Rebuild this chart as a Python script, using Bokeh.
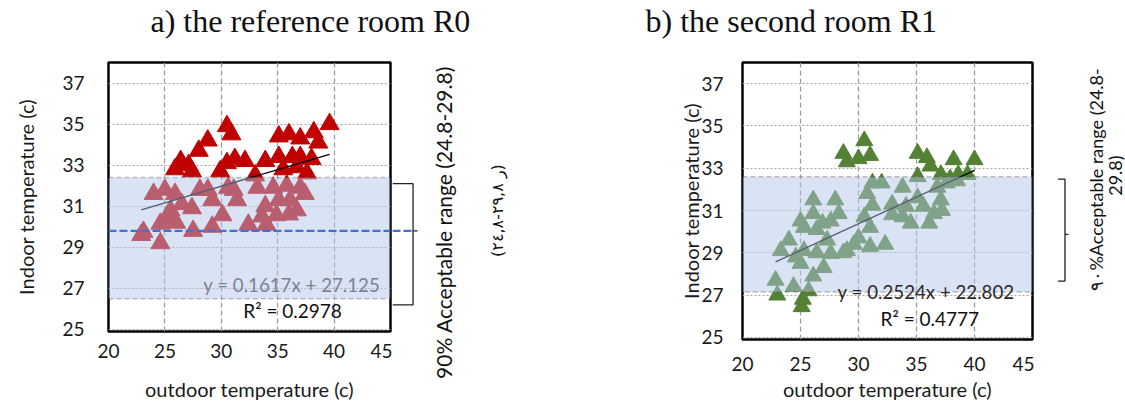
import math
from bokeh.plotting import figure
from bokeh.layouts import row, column
from bokeh.models import BoxAnnotation, Label, FixedTicker, Range1d, Span
from bokeh.core.properties import value
from bokeh.embed import file_html
from bokeh.resources import INLINE

# ---------------- data ----------------
x_ticks = [20, 25, 30, 35, 40, 45]
y_ticks = [25, 27, 29, 31, 33, 35, 37]

r0_outdoor = [30.5, 39.6, 38.2, 36.0, 35.1, 37.0, 38.6, 28.8, 28.0, 26.4, 27.1, 30.9, 30.5, 31.2,
              32.1, 33.9, 35.1, 36.3, 37.0, 38.0, 33.0, 36.7, 37.6, 35.5, 29.9, 25.9, 27.4,
              24.0, 25.0, 25.9, 28.1, 28.8, 26.5, 25.5, 24.6, 23.1, 24.6, 27.5, 29.2, 30.1, 29.2,
              27.4, 25.3, 33.2, 34.6, 35.8, 37.0, 37.4, 35.1, 36.1, 36.7, 36.0, 33.9, 33.6, 34.9,
              34.0, 32.4, 31.1, 31.4, 30.6, 22.9, 26.0]
r0_indoor = [34.9, 35.0, 34.6, 34.5, 34.4, 34.3, 34.1, 34.2, 33.7, 33.2, 33.0, 34.5, 33.1, 33.3,
             33.2, 33.2, 33.4, 33.4, 33.4, 33.3, 32.5, 32.9, 32.6, 32.8, 32.7, 32.8, 32.7,
             31.6, 31.8, 31.6, 31.8, 31.8, 31.1, 30.8, 30.15, 29.75, 29.2, 29.8, 30.0, 30.56, 31.3,
             30.9, 30.4, 31.9, 31.9, 32.0, 31.9, 31.6, 31.3, 31.3, 30.8, 30.6, 31.0, 30.5, 30.56,
             30.1, 30.1, 31.8, 31.3, 31.9, 29.6, 30.2]

r1_outdoor = [30.5, 28.7, 29.0, 30.0, 31.0, 35.1, 35.9, 36.2, 38.2, 40.0, 37.1, 37.9, 38.6, 35.1,
              31.2, 32.0, 30.75, 31.2, 30.5, 31.0, 30.0, 29.0, 31.0, 32.3, 32.9, 33.8, 32.9, 33.8,
              34.5, 35.1, 35.6, 36.1, 36.5, 37.1, 37.2, 36.8, 37.6, 38.5, 39.4, 34.1,
              22.85, 23.0, 23.3, 24.0, 24.4, 25.1, 25.2, 25.7, 26.1, 27.0, 25.0, 25.3, 24.6, 26.4,
              27.6, 25.3, 25.0, 26.1, 26.1, 26.9, 26.4, 27.3, 28.0, 28.3, 27.6, 28.7, 29.6]
r1_indoor = [34.3, 33.7, 33.3, 33.45, 33.6, 33.7, 33.5, 33.1, 33.4, 33.4, 32.7, 32.5, 32.7, 32.6,
             32.3, 32.3, 31.8, 31.25, 30.7, 30.2, 29.7, 29.1, 29.3, 29.4, 31.3, 32.1, 30.8, 30.7,
             30.4, 31.6, 31.2, 30.4, 30.85, 31.5, 31.0, 32.1, 32.3, 32.4, 32.7, 31.2,
             27.7, 27.0, 29.1, 29.6, 27.4, 26.45, 26.8, 27.2, 27.9, 28.3, 28.5, 29.1, 28.8, 29.0,
             28.97, 30.2, 30.5, 31.5, 30.85, 30.4, 30.1, 29.6, 31.5, 30.85, 30.5, 29.0, 29.4]

r0_fit = (0.1617, 27.125, 0.2978)
r1_fit = (0.2524, 22.802, 0.4777)
r0_band = (26.5, 32.4)
r1_band = (27.15, 32.6)
limit_line = 29.8

FONT = "Lato"
SERIF = "Liberation Serif"
H_TITLE = 46
H = 403 - H_TITLE
FRAME_TOP = 62 - H_TITLE
X0, X1 = 20, 45
Y0, Y1 = 24.9, 38


def no_align(p):
    if "frame_align" in p.properties():
        p.frame_align = False
    return p


def title_fig(width, text, offset):
    t = figure(width=width, height=H_TITLE, x_range=Range1d(0, 1), y_range=Range1d(0, 1),
               output_backend="svg", toolbar_location=None,
               min_border_left=0, min_border_right=0, min_border_top=3, min_border_bottom=0)
    t.title.text = text
    t.title.text_font = SERIF
    t.title.text_font_size = "32px"
    t.title.text_font_style = "normal"
    t.title.text_color = "#111111"
    t.title.align = "left"
    t.title.offset = offset
    t.title.standoff = 0
    t.axis.visible = False
    t.grid.visible = False
    t.outline_line_color = None
    return no_align(t)


def base_fig(width, mb_left, mb_bottom):
    p = figure(width=width, height=H, x_range=(X0, X1), y_range=(Y0, Y1),
               output_backend="svg", toolbar_location=None,
               min_border_left=mb_left, min_border_right=2,
               min_border_top=FRAME_TOP, min_border_bottom=mb_bottom)
    p.outline_line_color = "black"
    p.outline_line_width = 2.5
    p.outline_line_alpha = 1
    p.xaxis.ticker = FixedTicker(ticks=x_ticks)
    p.yaxis.ticker = FixedTicker(ticks=y_ticks)
    for ax in (p.xaxis[0], p.yaxis[0]):
        ax.axis_line_color = None
        ax.major_tick_line_color = None
        ax.minor_tick_line_color = None
        ax.major_tick_out = 0
        ax.major_tick_in = 0
        ax.minor_tick_out = 0
        ax.major_label_text_font = FONT
        ax.major_label_text_font_size = "19px"
        ax.major_label_text_color = "#1a1a1a"
        ax.axis_label_text_font = FONT
        ax.axis_label_text_font_size = "20px"
        ax.axis_label_text_font_style = "normal"
        ax.axis_label_text_color = "#1a1a1a"
    p.xaxis.axis_label = "outdoor temperature (c)"
    p.yaxis.axis_label = "Indoor temperature (c)"
    p.xgrid.grid_line_color = "#9a9a9a"
    p.xgrid.grid_line_dash = "5 3"
    p.xgrid.grid_line_width = 1.2
    p.ygrid.grid_line_color = "#a6a6a6"
    p.ygrid.grid_line_dash = "2 2"
    p.ygrid.grid_line_width = 1
    p.background_fill_color = "white"
    p.border_fill_color = "white"
    return no_align(p)


def side_fig(width, px_x, px_y):
    left = X1 + 2 / px_x
    bottom = Y1 - (H - FRAME_TOP) / px_y
    s = figure(width=width, height=H, x_range=Range1d(left, left + width / px_x),
               y_range=Range1d(bottom, Y1), output_backend="svg", toolbar_location=None,
               min_border_left=0, min_border_right=0, min_border_top=FRAME_TOP,
               min_border_bottom=0)
    s.axis.visible = False
    s.grid.visible = False
    s.outline_line_color = None
    s.background_fill_color = "white"
    s.border_fill_color = "white"
    return no_align(s), left


def add_common(p, xs, ys, fit, band, color, size):
    p.scatter(xs, ys, marker="triangle", size=size, fill_color=color, line_color=color)
    slope, icpt, r2 = fit
    x0, x1 = min(xs), max(xs)
    p.line([x0, x1], [slope * x0 + icpt, slope * x1 + icpt], line_color="black", line_width=1.3)
    box = BoxAnnotation(bottom=band[0], top=band[1], fill_color="#B1C4E5", fill_alpha=0.48,
                        line_color="#3a3a3a", line_dash="5 3", line_width=1.5)
    p.add_layout(box)
    return slope, icpt, r2


def brace(s, x_from, x_line, x_nub, top, bottom, mid):
    s.multi_line(xs=[[x_from, x_line, x_line, x_from], [x_line, x_nub]],
                 ys=[[top, top, bottom, bottom], [mid, mid]],
                 line_color="#222222", line_width=1.3)


# ---------------- left panel ----------------
t1 = title_fig(560, "a) the reference room R0", 150)
p1 = base_fig(392, 108, 72)
p1.yaxis.major_label_standoff = 24
p1.yaxis.axis_label_standoff = 21
p1.xaxis.major_label_standoff = 12
p1.xaxis.axis_label_standoff = 16
s, b, r2 = add_common(p1, r0_outdoor, r0_indoor, r0_fit, r0_band, "#C00000", 19)
p1.add_layout(Span(location=limit_line, dimension="width", line_color="#4472C4",
                   line_width=2.2, line_dash="8 3"))
p1.add_layout(Label(x=28.4, y=27.15, text=f"y = {s}x + {b}", text_font=FONT,
                    text_font_size="18.7px", text_color="#7b8290", text_align="left",
                    text_baseline="middle"))
p1.add_layout(Label(x=31.95, y=25.93, text=f"R² = {r2}", text_font=FONT,
                    text_font_size="19px", text_color="#111111", text_align="left",
                    text_baseline="middle"))

s1, s1_left = side_fig(168, 282 / (X1 - X0), 269 / (Y1 - Y0))
s1.segment(x0=[s1_left], y0=[limit_line], x1=[47.0], y1=[limit_line],
           line_color="#4472C4", line_width=2.2, line_dash="8 3")
brace(s1, s1_left, 47.0, 47.4, 32.1, 26.2, 29.8)
s1.text(x=[49.7], y=[30.21], text=["90% Acceptable range (24.8-29.8)"], angle=math.pi / 2,
        text_font=value(FONT), text_font_size="21px", text_color="#111111",
        text_align="center", text_baseline="middle")
s1.text(x=[54.5], y=[30.79], text=["(۲٤,۸-۲۹,۸ ر)"], angle=math.pi / 2,
        text_font=value("DejaVu Sans"), text_font_size="16px", text_color="#111111",
        text_align="center", text_baseline="middle")

# ---------------- right panel ----------------
t2 = title_fig(565, "b) the second room R1", 85)
p2 = base_fig(474, 182, 63)
p2.yaxis.major_label_standoff = 19
p2.yaxis.axis_label_standoff = -5
p2.xaxis.major_label_standoff = 17
p2.xaxis.axis_label_standoff = 3
s, b, r2 = add_common(p2, r1_outdoor, r1_indoor, r1_fit, r1_band, "#548235", 17)
p2.add_layout(Label(x=28.2, y=27.14, text=f"y = {s}x + {b}", text_font=FONT,
                    text_font_size="18.7px", text_color="#2a2a2a", text_align="left",
                    text_baseline="middle"))
p2.add_layout(Label(x=31.9, y=25.9, text=f"R² = {r2}", text_font=FONT,
                    text_font_size="19px", text_color="#111111", text_align="left",
                    text_baseline="middle"))

s2, s2_left = side_fig(91, 290 / (X1 - X0), 278 / (Y1 - Y0))
brace(s2, 47.2, 47.8, 48.1, 32.5, 27.7, 29.9)
s2.text(x=[50.5], y=[32.49], text=["٩٠%Acceptable range (24.8-"], angle=math.pi / 2,
        text_font=value(FONT), text_font_size="18px", text_color="#111111",
        text_align="center", text_baseline="middle")
s2.text(x=[52.15], y=[32.67], text=["29.8)"], angle=math.pi / 2,
        text_font=value(FONT), text_font_size="18px", text_color="#111111",
        text_align="center", text_baseline="middle")

layout = column(row(t1, t2), row(p1, s1, p2, s2))
open("out.html", "w").write(file_html(layout, INLINE))
